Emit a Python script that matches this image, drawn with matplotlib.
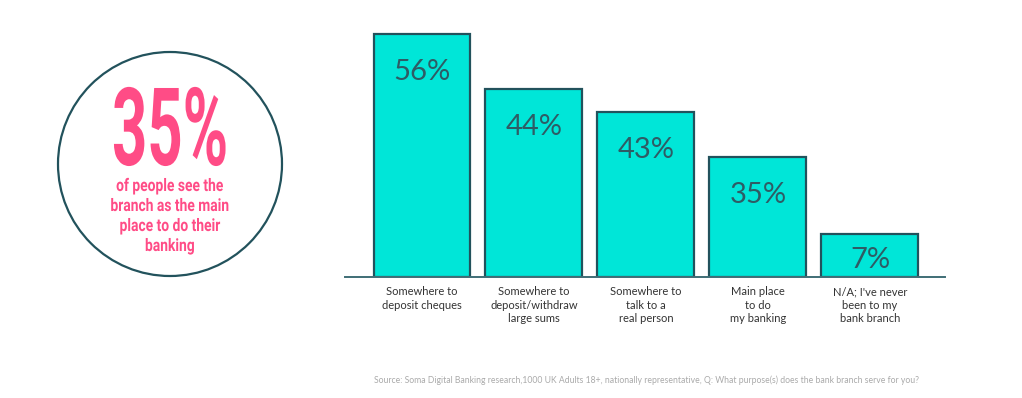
import matplotlib
matplotlib.use("Agg")
import matplotlib.pyplot as plt
from matplotlib.patches import Circle
from matplotlib.patheffects import AbstractPathEffect
from matplotlib.transforms import Affine2D
from matplotlib import font_manager

categories = ["Somewhere to\ndeposit cheques",
              "Somewhere to\ndeposit/withdraw\nlarge sums",
              "Somewhere to\ntalk to a\nreal person",
              "Main place\nto do\nmy banking",
              "N/A; I've never\nbeen to my\nbank branch"]
pct_labels = [56, 44, 43, 35, 7]
# bar heights as drawn in the picture (not exactly proportional to the labels)
bar_heights = [56, 43.3, 38.0, 27.7, 9.9]

headline = "35%"
headline_text = ["of people see the", "branch as the main", "place to do their", "banking"]
source = ("Source: Soma Digital Banking research,1000 UK Adults 18+, nationally representative, "
          "Q: What purpose(s) does the bank branch serve for you?")

PINK = "#FF4C86"
TEAL = "#22525C"
CYAN = "#00E6D8"

installed = {f.name for f in font_manager.fontManager.ttflist}
narrow = [f for f in ["Liberation Sans Narrow", "Roboto", "DejaVu Sans"] if f in installed]
light = [f for f in ["Lato", "Open Sans", "DejaVu Sans"] if f in installed]


class Stretch(AbstractPathEffect):
    # rescale glyphs around their horizontal centre and baseline
    def __init__(self, sx, sy=1.0):
        super().__init__()
        self.sx = sx
        self.sy = sy

    def draw_path(self, renderer, gc, tpath, affine, rgbFace=None):
        ext = tpath.get_extents()
        cx = (ext.x0 + ext.x1) / 2
        t = Affine2D().translate(-cx, 0).scale(self.sx, self.sy).translate(cx, 0) + affine
        renderer.draw_path(gc, tpath, t, rgbFace)


fig = plt.figure(figsize=(10.22, 3.98), dpi=100)
W, H = 1022, 398

# overlay in pixel coordinates for the circle callout
ov = fig.add_axes([0, 0, 1, 1])
ov.set_xlim(0, W)
ov.set_ylim(H, 0)
ov.axis("off")
ov.add_patch(Circle((170, 164), 112, facecolor="white", edgecolor=TEAL, lw=1.6))

big_size = 40
big_sy = 78 / big_size
big = ov.text(170, 165, headline, ha="center", va="baseline", color=PINK,
              fontsize=big_size, fontweight="bold", family=narrow)
subs = []
for i, line in enumerate(headline_text):
    subs.append(ov.text(170, 191 + 20 * i, line, ha="center", va="baseline", color=PINK,
                        fontsize=12.5, fontweight="bold", family=narrow))

# bar chart
ax = fig.add_axes([345 / W, 121 / H, 600 / W, 260 / H])
x = list(range(len(categories)))
ax.bar(x, bar_heights, width=0.866, color=CYAN, edgecolor=TEAL, linewidth=1.6, zorder=2)
ax.set_xlim(-0.6875, 4.67)
ax.set_ylim(0, 60)
for i, (h, p) in enumerate(zip(bar_heights, pct_labels)):
    off = min(38, h * 4.333 * 0.6)
    ax.annotate(f"{p}%", (i, h), xytext=(0, -off * 0.72), textcoords="offset points",
                ha="center", va="center", fontsize=21, color="#2E5C65",
                family=light, fontweight="normal")

for s in ["top", "right", "left"]:
    ax.spines[s].set_visible(False)
ax.spines["bottom"].set_color("#3F6E76")
ax.spines["bottom"].set_linewidth(1.4)
ax.set_yticks([])
ax.set_xticks(x)
ax.set_xticklabels(categories, fontsize=8, color="#333333", family=light, linespacing=1.3)
ax.tick_params(axis="x", length=0, pad=6.5)
ax.patch.set_alpha(0)

fig.text(646 / W, 1 - 380 / H, source, ha="center", va="center", fontsize=6.2,
         color="#AAAAAA", family=light)

# fit the condensed headline widths to the picture
fig.canvas.draw()
r = fig.canvas.get_renderer()
bw = big.get_window_extent(r).width * big_sy
big.set_path_effects([Stretch(116 / bw * big_sy, big_sy)])
sw = subs[1].get_window_extent(r).width
for t in subs:
    t.set_path_effects([Stretch(119 / sw)])

fig.savefig("out.png", dpi=100)
